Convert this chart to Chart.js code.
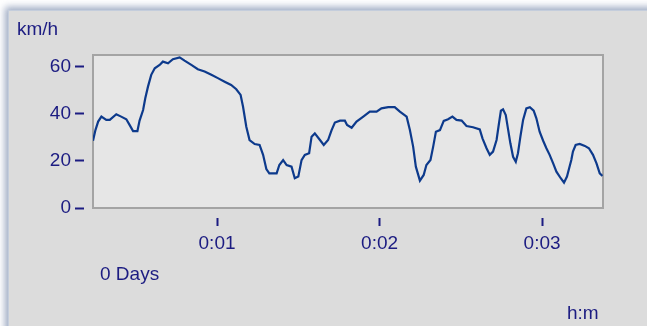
<!DOCTYPE html>
<html>
<head>
<meta charset="utf-8">
<script src="https://cdn.jsdelivr.net/npm/chart.js@4/dist/chart.umd.min.js"></script>
<style>
    body { margin: 0; background: #fff; width: 647px; height: 326px; overflow: hidden; position: relative; font-family: "Liberation Sans", Arial, sans-serif; }
    .win {
        position: absolute; left: 8px; top: 10px; width: 700px; height: 360px;
        background: #dcdcdc;
        border-left: 1px solid #c4cddc; border-top: 1px solid #c4cddc;
        box-shadow: -3px -3px 7px rgba(95, 115, 155, 0.6);
    }
    canvas { position: absolute; left: 0; top: 0; }
    .lbl { position: absolute; color: #1c1c82; font-size: 19px; line-height: 19px; white-space: nowrap; }
</style>
</head>
<body>
<div class="win"></div>
<canvas id="speed-chart" width="647" height="326"></canvas>
<div class="lbl" style="left:17px; top:19px;">km/h</div>
<div class="lbl" style="left:100px; top:264px;">0 Days</div>
<div class="lbl" style="left:567px; top:303px;">h:m</div>
<script>
// time in seconds, speed in km/h
const times = [
    14.2, 15.1, 16.1, 17.3, 19.1, 20.4, 22.8, 24.6, 26.5, 27.7, 29.0, 30.6, 31.4, 32.7, 33.5, 34.5,
    35.7, 37.0, 38.8, 40.0, 41.9, 43.7, 46.2, 48.0, 50.5, 52.9, 55.4, 57.9, 60.3, 62.8, 65.2, 67.1,
    68.7, 69.6, 70.8, 72.0, 73.9, 75.7, 77.0, 78.2, 79.3, 82.0, 83.0, 84.4, 85.7, 87.5, 88.7, 90.0,
    91.2, 92.4, 94.0, 94.9, 96.1, 98.0, 99.4, 101.0, 102.3, 103.5, 105.4, 107.2, 108.0, 109.7, 111.5, 114.0,
    116.4, 118.9, 120.7, 123.2, 125.6, 127.5, 130.0, 131.2, 132.4, 133.4, 134.9, 136.3, 137.3, 138.8, 139.8, 140.8,
    142.3, 143.7, 145.3, 146.9, 148.4, 150.3, 152.1, 154.5, 157.0, 158.0, 159.5, 160.7, 161.9, 163.2, 164.1, 164.8,
    165.6, 166.6, 167.5, 168.3, 169.3, 170.3, 171.1, 172.0, 173.0, 174.2, 175.5, 176.9, 177.9, 179.1, 180.4, 181.6,
    182.8, 184.1, 185.3, 186.9, 188.1, 189.2, 190.0, 190.8, 191.4, 192.4, 193.9, 195.8, 197.3, 198.8, 200.1, 201.3,
    202.3
];
const speeds = [
    28.5, 33.0, 36.6, 38.7, 37.3, 37.3, 39.7, 38.7, 37.6, 35.2, 32.6, 32.6, 37.0, 41.5, 46.5, 51.4,
    56.4, 59.2, 60.6, 62.0, 61.3, 63.0, 63.8, 62.4, 60.6, 58.8, 57.8, 56.4, 55.0, 53.5, 52.1, 50.3,
    47.9, 42.9, 34.4, 28.8, 27.1, 26.7, 22.5, 16.5, 14.7, 14.7, 18.2, 20.3, 18.2, 17.5, 12.6, 13.3,
    20.3, 22.5, 23.2, 30.2, 31.6, 28.8, 26.7, 28.8, 33.0, 36.2, 37.0, 37.0, 35.2, 34.0, 36.6, 38.7,
    40.8, 40.8, 42.2, 42.7, 42.7, 40.8, 38.7, 33.0, 26.0, 17.5, 11.6, 14.0, 18.2, 20.3, 26.0, 32.3,
    33.0, 36.9, 37.6, 38.7, 37.3, 37.0, 34.7, 34.2, 33.3, 29.5, 25.3, 22.5, 23.9, 28.8, 35.9, 41.2,
    41.8, 39.4, 33.0, 27.4, 21.7, 19.6, 23.2, 30.2, 37.3, 42.2, 42.7, 41.2, 38.0, 32.3, 28.5, 25.3,
    22.5, 18.9, 15.4, 12.6, 10.7, 13.3, 16.8, 20.3, 23.9, 26.7, 27.1, 26.3, 25.3, 22.5, 18.9, 14.7,
    13.6
];
const xTicks = [60, 120, 180];
const yTicks = [0, 20, 40, 60];

const textColor = '#1c1c82';
const font = { size: 19, family: "'Liberation Sans', Arial, sans-serif" };

const plotFrame = {
    id: 'plotFrame',
    beforeDraw(chart) {
        const { ctx, chartArea: a } = chart;
        ctx.save();
        ctx.fillStyle = '#e6e6e6';
        ctx.fillRect(a.left, a.top, a.right - a.left, a.bottom - a.top);
        ctx.restore();
    },
    beforeDatasetsDraw(chart) {
        const { ctx, chartArea: a } = chart;
        ctx.save();
        ctx.strokeStyle = '#a4a4a4';
        ctx.lineWidth = 2;
        ctx.strokeRect(a.left, a.top, a.right - a.left, a.bottom - a.top);
        ctx.restore();
    }
};

function fmtMin(v) {
    const m = Math.round(v / 60);
    const h = Math.floor(m / 60);
    return h + ':' + String(m % 60).padStart(2, '0');
}

new Chart(document.getElementById('speed-chart'), {
    type: 'line',
    data: {
        datasets: [{
            data: times.map((t, i) => ({ x: t, y: speeds[i] })),
            borderColor: '#0d3a8c',
            borderWidth: 2.2,
            pointRadius: 0,
            tension: 0,
            fill: false,
        }]
    },
    options: {
        responsive: false,
        animation: false,
        layout: { padding: { left: 0, right: 44, top: 55, bottom: 0 } },
        plugins: { legend: { display: false }, tooltip: { enabled: false } },
        scales: {
            x: {
                type: 'linear',
                min: 14.2,
                max: 202.5,
                afterBuildTicks: axis => { axis.ticks = xTicks.map(v => ({ value: v })); },
                afterFit: axis => { axis.height = 118; },
                border: { display: false },
                grid: {
                    drawOnChartArea: false,
                    drawTicks: true,
                    tickLength: 19,
                    tickColor: textColor,
                    tickWidth: 2,
                    tickBorderDash: [0, 10, 8, 40],
                },
                ticks: { color: textColor, font, padding: 5, callback: v => fmtMin(v) },
            },
            y: {
                min: 0,
                max: 64.8,
                afterBuildTicks: axis => { axis.ticks = yTicks.map(v => ({ value: v })); },
                afterFit: axis => { axis.width = 93; },
                border: { display: false },
                grid: {
                    drawOnChartArea: false,
                    drawTicks: true,
                    tickLength: 18,
                    tickColor: textColor,
                    tickWidth: 2,
                    tickBorderDash: [9, 40],
                },
                ticks: { color: textColor, font, padding: 4 },
            },
        },
    },
    plugins: [plotFrame],
});
</script>
</body>
</html>
